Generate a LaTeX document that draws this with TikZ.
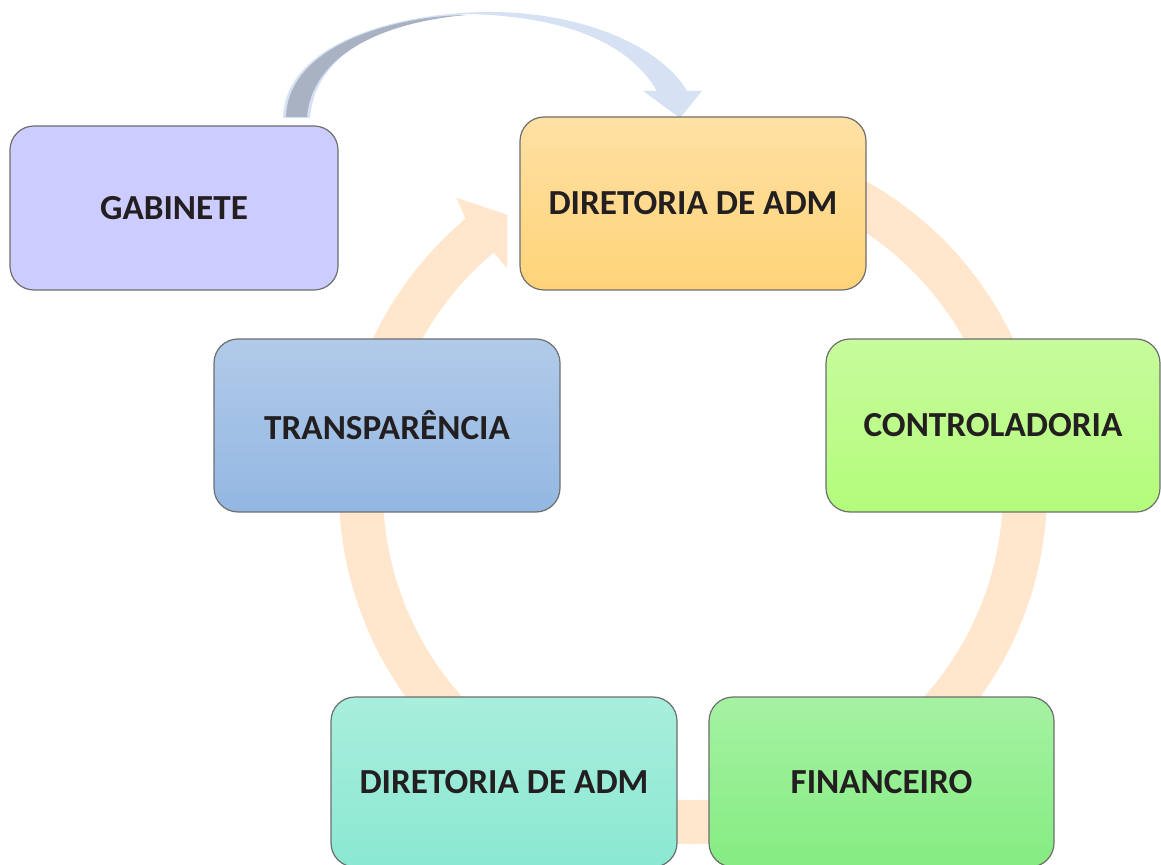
\documentclass[tikz,border=0pt]{standalone}
\usepackage{fontspec}
\setmainfont{Carlito}
\definecolor{ringcol}{HTML}{FFE6CC}
\definecolor{arrowblue}{HTML}{D6E1F3}
\definecolor{arrowgray}{HTML}{A8B2C2}
\definecolor{boxline}{HTML}{6E6E6E}
\definecolor{labeltext}{HTML}{231F20}
\definecolor{gabfill}{HTML}{CCCCFF}
\definecolor{diratop}{HTML}{FFE1A4}
\definecolor{dirabot}{HTML}{FFD378}
\definecolor{ctrltop}{HTML}{C7FB9C}
\definecolor{ctrlbot}{HTML}{B3FC7B}
\definecolor{transptop}{HTML}{B1CAE9}
\definecolor{transpbot}{HTML}{93B7E2}
\definecolor{dirbtop}{HTML}{A8EEDC}
\definecolor{dirbbot}{HTML}{8AE8D2}
\definecolor{fintop}{HTML}{A5F2A2}
\definecolor{finbot}{HTML}{85EC82}
\begin{document}
\begin{tikzpicture}[x=0.5pt,y=-0.5pt]
\tikzstyle{box}=[draw=boxline,line width=0.6pt,rounded corners=12pt,minimum width=173pt,minimum height=86.5pt,text=labeltext,font=\fontsize{17.6}{20}\selectfont\bfseries]
\useasboundingbox (0,0) rectangle (1161,865);
\coordinate (c) at (693,490);
\fill[ringcol] ([shift={(-70:354)}]c) arc[start angle=-70,end angle=230,radius=354]
  -- ([shift={(231:376)}]c) -- ([shift={(236:332)}]c) -- ([shift={(230:289)}]c)
  -- ([shift={(230:310)}]c) arc[start angle=230,end angle=-70,radius=310] -- cycle;
\fill[arrowblue] (283,118) .. controls (285,42) and (400,12) .. (490,12)
  .. controls (580,12) and (660,45) .. (687,91) -- (702,91) -- (680,118) -- (643,91) -- (657,91)
  .. controls (630,45) and (570,17) .. (470,14)
  .. controls (380,20) and (315,55) .. (310,118) -- cycle;
\fill[arrowgray] (286,117) .. controls (288,45) and (395,16) .. (466,15)
  .. controls (378,23) and (312,57) .. (307,117) -- cycle;
\node[box,fill=gabfill,minimum width=164pt,minimum height=82pt] (gabinete) at (174,208) {GABINETE};
\node[box,top color=diratop,bottom color=dirabot] (diretoria) at (693,203.5) {DIRETORIA DE ADM};
\node[box,top color=ctrltop,bottom color=ctrlbot,minimum width=167pt] (controladoria) at (993,425.5) {CONTROLADORIA};
\node[box,top color=transptop,bottom color=transpbot] (transparencia) at (387,425.5) {TRANSPARÊNCIA};
\node[box,top color=dirbtop,bottom color=dirbbot,minimum height=85pt] (diretoria2) at (504,782) {DIRETORIA DE ADM};
\node[box,top color=fintop,bottom color=finbot,minimum width=172.5pt,minimum height=85pt] (financeiro) at (881.5,782) {FINANCEIRO};
\end{tikzpicture}
\end{document}
